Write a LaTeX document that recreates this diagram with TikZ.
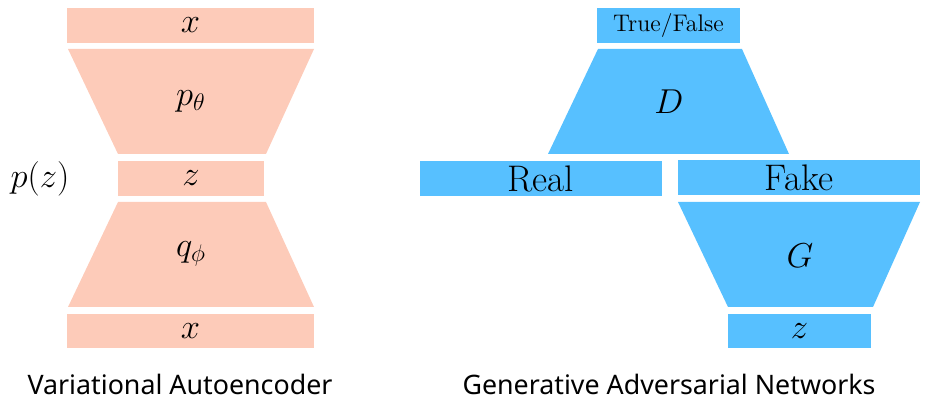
\documentclass[tikz,border=0pt]{standalone}
\usepackage{fontspec}
\setsansfont{Noto Sans}
\definecolor{vaepink}{RGB}{253,203,185}
\definecolor{ganblue}{RGB}{87,192,255}
\tikzset{
  caption/.style={font=\sffamily\fontsize{13.4}{16}\selectfont, anchor=base}
}

\begin{document}
\begin{tikzpicture}[x=0.5pt, y=-0.5pt, font=\fontsize{18.5}{22}\selectfont]
    \useasboundingbox (0, 0) rectangle (943, 411);
    % Variational Autoencoder
    \fill[fill=vaepink] (67, 8) rectangle ++(247, 35) node[pos=0.5] (xtop){$x$};
    \fill[fill=vaepink] (68, 49) -- (314, 49) -- (266, 154) -- (118, 154) -- cycle;
    \node (ptheta) at (191, 101) {$p_\theta$};
    \fill[fill=vaepink] (118, 161) rectangle ++(146, 35) node[pos=0.5] (zvae){$z$};
    \node (pz) at (40, 179) {$p(z)$};
    \fill[fill=vaepink] (118, 202) -- (266, 202) -- (314, 307) -- (68, 307) -- cycle;
    \node (qphi) at (191, 254) {$q_\phi$};
    \fill[fill=vaepink] (67, 314) rectangle ++(247, 34) node[pos=0.5] (xbot){$x$};
    \node[caption] (vae) at (180, 394) {Variational Autoencoder};
    % Generative Adversarial Networks
    \fill[fill=ganblue] (597, 8) rectangle ++(143, 35) node[pos=0.5, font=\fontsize{12}{14}\selectfont] (tf){True/False};
    \fill[fill=ganblue] (598, 49) -- (742, 49) -- (789, 154) -- (548, 154) -- cycle;
    \node (disc) at (669, 102) {$D$};
    \fill[fill=ganblue] (420, 161) rectangle ++(242, 35) node[pos=0.5] (real){Real};
    \fill[fill=ganblue] (678, 160) rectangle ++(242, 35) node[pos=0.5] (fake){Fake};
    \fill[fill=ganblue] (678, 202) -- (920, 202) -- (873, 307) -- (728, 307) -- cycle;
    \node (gen) at (800, 256) {$G$};
    \fill[fill=ganblue] (728, 314) rectangle ++(143, 34) node[pos=0.5] (zgan){$z$};
    \node[caption] (gan) at (669, 394) {Generative Adversarial Networks};
  \end{tikzpicture}
\end{document}
